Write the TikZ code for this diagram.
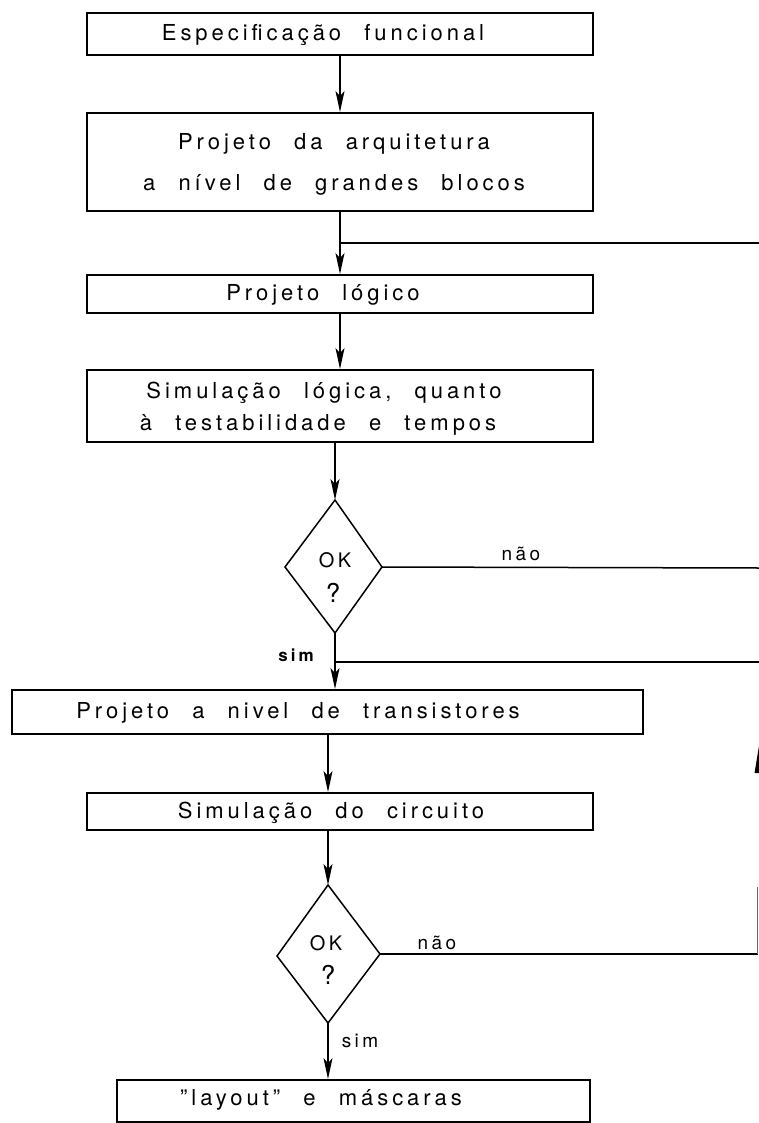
\documentclass[tikz,border=0pt]{standalone}
\usepackage{fontspec}
\setmainfont{TeX Gyre Heros}[LetterSpace=18, WordSpace=2.3]
\usetikzlibrary{arrows.meta}
\begin{document}
\begin{tikzpicture}[x=1pt,y=-1pt,
  box/.style={draw, line width=1.9pt, inner sep=0pt},
  txt/.style={inner sep=0pt, font=\fontsize{22}{25}\selectfont},
  conn/.style={line width=1.5pt},
  arr/.style={conn, -{Stealth[length=21pt,width=9pt,inset=5pt]}},
  lbl/.style={inner sep=0pt, font=\fontsize{19}{22}\selectfont},
  dia/.style={line width=1.5pt, line join=miter}
]
\useasboundingbox (0,0) rectangle (759,1123);
\fill[white] (0,0) rectangle (759,1123);

% boxes
\node[box, minimum width=506pt, minimum height=42pt] (b1) at (340,34) {};
\node[txt] (t1) at (323,35) {Especificação funcional};

\node[box, minimum width=506pt, minimum height=98pt] (b2) at (340,162) {};
\node[txt] (t2a) at (334,144) {Projeto da arquitetura};
\node[txt] (t2b) at (334,185) {a nível de grandes blocos};

\node[box, minimum width=506pt, minimum height=38pt] (b3) at (340,294) {};
\node[txt] (t3) at (323,295) {Projeto lógico};

\node[box, minimum width=506pt, minimum height=72pt] (b4) at (340,406) {};
\node[txt] (t4a) at (324,393) {Simulação lógica, quanto};
\node[txt] (t4b) at (318,425) {à testabilidade e tempos};

% diamond 1
\coordinate (d1t) at (335,500);
\coordinate (d1r) at (382,567);
\coordinate (d1b) at (335,633);
\coordinate (d1l) at (285,567);
\draw[dia] (d1t)--(d1r)--(d1b)--(d1l)--cycle;
\node[lbl, font=\fontsize{20}{23}\selectfont] (ok1) at (335,560) {OK};
\node[lbl, font=\fontsize{26}{29}\selectfont] (q1) at (333,593) {?};

\node[box, minimum width=631pt, minimum height=44pt] (b5) at (327.5,712) {};
\node[txt] (t5) at (298,713) {Projeto a nivel de transistores};

\node[box, minimum width=506pt, minimum height=37pt] (b6) at (340,811.5) {};
\node[txt] (t6) at (331,813) {Simulação do circuito};

% diamond 2
\coordinate (d2t) at (328,885);
\coordinate (d2r) at (380,954);
\coordinate (d2b) at (328,1023);
\coordinate (d2l) at (277,956);
\draw[dia] (d2t)--(d2r)--(d2b)--(d2l)--cycle;
\node[lbl, font=\fontsize{20}{23}\selectfont] (ok2) at (326,943) {OK};
\node[lbl, font=\fontsize{26}{29}\selectfont] (q2) at (328,975) {?};

\node[box, minimum width=473pt, minimum height=42pt] (b7) at (353.5,1101) {};
\node[txt] (t7) at (321,1100) {"layout" e máscaras};

% main flow
\draw[arr] (b1.south) -- (b2.north);
\draw[arr] (b2.south) -- (b2.south |- b3.north);
\draw[arr] (b3.south) -- (b3.south |- b4.north);
\draw[arr] (b4.south -| d1t) -- (d1t);
\draw[arr] (d1b) -- (d1b |- b5.north);
\draw[arr] (d2t |- b5.south) -- (d2t |- b6.north);
\draw[arr] (d2t |- b6.south) -- (d2t);
\draw[arr] (d2b) -- (d2b |- b7.north);

% return lines on the right
\coordinate (r1) at (759,243);
\draw[conn] (r1) -- (b2.south |- r1);
\coordinate (r2) at (759,568);
\draw[conn] (d1r) -- (r2);
\node[lbl] (nao1) at (521,554) {não};
\coordinate (r3) at (759,662);
\draw[conn] (d1b |- r3) -- (r3);
\node[lbl, font=\bfseries\fontsize{17}{20}\selectfont] (sim1) at (296,655) {sim};
\coordinate (r4) at (757.5,954);
\coordinate (r5) at (757.5,887);
\draw[conn] (d2r) -- (r4);
\draw[line width=0.9pt, black!60] (r4) -- (r5);
\node[lbl] (nao2) at (437,943) {não};
\node[lbl] (sim2) at (360,1041) {sim};
\fill (759,746) -- (754.5,773) -- (759,773) -- cycle;
\end{tikzpicture}
\end{document}
